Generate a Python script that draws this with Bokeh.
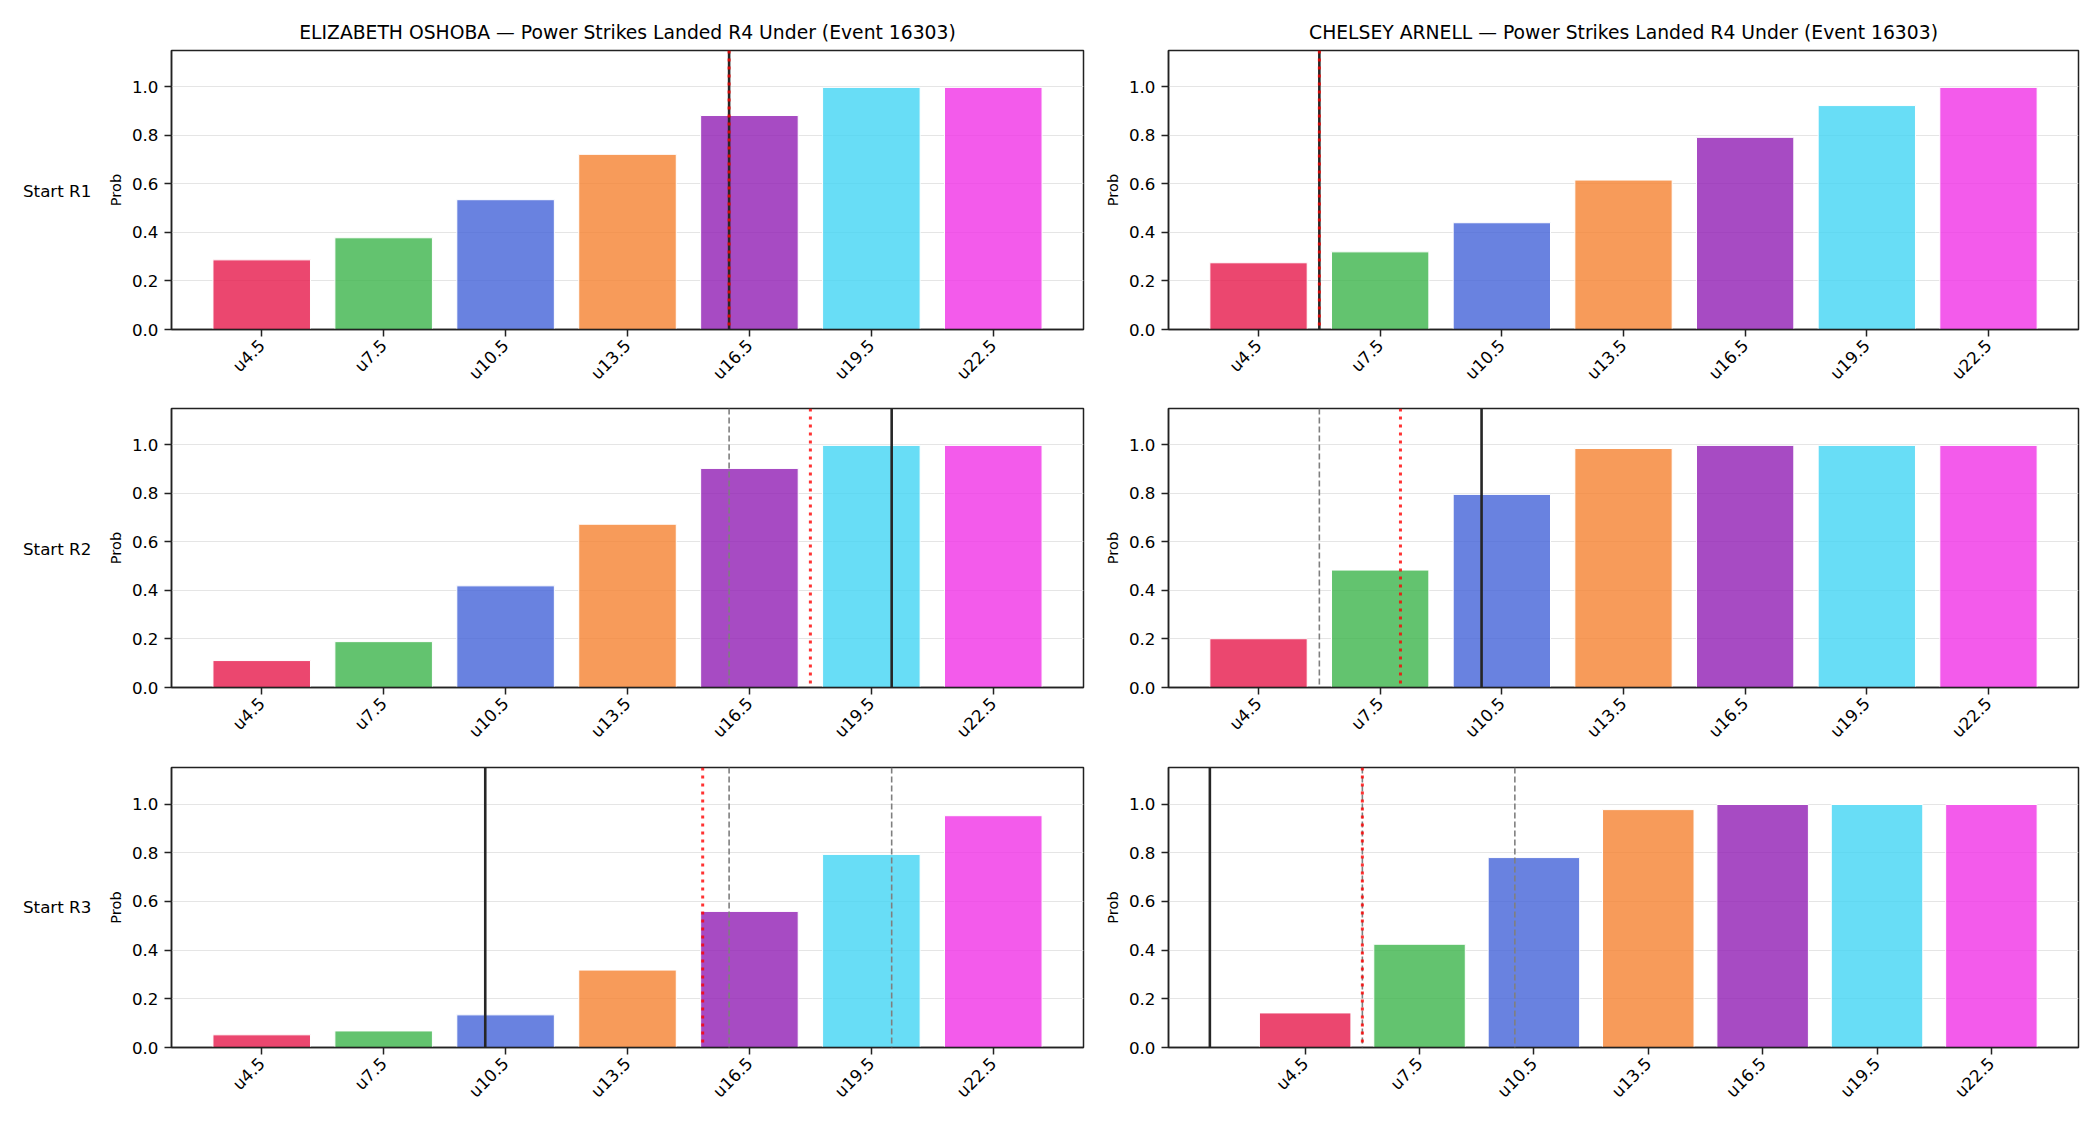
import math
from bokeh.plotting import figure
from bokeh.layouts import column, row
from bokeh.models import Span, Div, FixedTicker, PrintfTickFormatter, Range1d, ColumnDataSource
from bokeh.embed import file_html
from bokeh.resources import INLINE

# ---------------- data ----------------
fighters = ["ELIZABETH OSHOBA", "CHELSEY ARNELL"]
title_suffix = " — Power Strikes Landed R4 Under (Event 16303)"
round_labels = ["Start R1", "Start R2", "Start R3"]
line_labels = ["u4.5", "u7.5", "u10.5", "u13.5", "u16.5", "u19.5", "u22.5"]
line_values = [4.5, 7.5, 10.5, 13.5, 16.5, 19.5, 22.5]
bar_colors = ["#e6194b", "#3cb44b", "#4363d8", "#f58231", "#911eb4", "#42d4f4", "#f032e6"]

oshoba_r1 = [0.287, 0.378, 0.535, 0.722, 0.882, 0.998, 0.998]
oshoba_r2 = [0.111, 0.189, 0.419, 0.673, 0.903, 0.998, 0.998]
oshoba_r3 = [0.052, 0.068, 0.134, 0.318, 0.559, 0.793, 0.952]
arnell_r1 = [0.275, 0.320, 0.440, 0.616, 0.792, 0.923, 0.998]
arnell_r2 = [0.201, 0.484, 0.796, 0.985, 0.998, 0.998, 0.998]
arnell_r3 = [0.142, 0.424, 0.780, 0.977, 0.998, 0.998, 0.998]

# vertical markers (in strikes)
oshoba_solid = [16.0, 20.0, 10.0]
oshoba_dotted = [16.0, 18.0, 15.35]
oshoba_dashed = [[], [16.0], [16.0, 20.0]]
arnell_solid = [6.0, 10.0, 2.0]
arnell_dotted = [6.0, 8.0, 6.0]
arnell_dashed = [[], [6.0], [6.0, 10.0]]

y_max = 1.15
y_ticks = [0.0, 0.2, 0.4, 0.6, 0.8, 1.0]

probs = [[oshoba_r1, oshoba_r2, oshoba_r3], [arnell_r1, arnell_r2, arnell_r3]]
solids = [oshoba_solid, arnell_solid]
dotteds = [oshoba_dotted, arnell_dotted]
dasheds = [oshoba_dashed, arnell_dashed]

# ---------------- styling ----------------
FONT = "DejaVu Sans"
TICK_FS = "16.7px"
TITLE_FS = "18.75px"
ROW_FS = "16.7px"
AXLAB_FS = "14.6px"
SPINE = "#222222"

label_col_w = 100
col_borders = [(71, 17), (66, 22)]
row_borders = [(50, 62), (15, 62), (16, 78)]
frame_w = 912
frame_hs = [281, 281, 280]


def to_pos(v):
    step = line_values[1] - line_values[0]
    return (v - line_values[0]) / step


def make(fi, ri):
    bl, br = col_borders[fi]
    bt, bb = row_borders[ri]
    fh = frame_hs[ri]
    idx = list(range(len(line_labels)))
    marks = [solids[fi][ri], dotteds[fi][ri]] + list(dasheds[fi][ri])
    mpos = [to_pos(v) for v in marks]
    lo = min(idx[0] - 0.4, min(mpos))
    hi = max(idx[-1] + 0.4, max(mpos))
    pad = 0.05 * (hi - lo)
    x0, x1 = lo - pad, hi + pad

    p = figure(width=bl + frame_w + br, height=bt + fh + bb,
               x_range=Range1d(x0, x1), y_range=Range1d(0, y_max),
               output_backend="svg", toolbar_location=None,
               title=(fighters[fi] + title_suffix) if ri == 0 else None,
               min_border_left=bl, min_border_right=br,
               min_border_top=bt, min_border_bottom=bb)
    p.background_fill_color = "white"
    p.border_fill_color = "white"
    p.outline_line_color = SPINE
    p.outline_line_width = 1.5
    p.outline_line_alpha = 1.0
    if ri == 0:
        p.title.align = "center"
        p.title.text_font = FONT
        p.title.text_font_size = TITLE_FS
        p.title.text_font_style = "normal"
        p.title.text_color = "black"
        p.title.standoff = 16

    src = ColumnDataSource(dict(x=idx, top=probs[fi][ri], color=bar_colors, label=line_labels))
    p.vbar(x="x", top="top", bottom=0, width=0.8, source=src,
           fill_color="color", fill_alpha=0.8, line_color="white", line_width=1)

    for v in dasheds[fi][ri]:
        p.add_layout(Span(location=to_pos(v), dimension="height", line_color="#7f7f7f",
                          line_width=1.6, line_dash="6 3"))
    p.add_layout(Span(location=to_pos(solids[fi][ri]), dimension="height",
                      line_color="#262626", line_width=2.6))
    p.add_layout(Span(location=to_pos(dotteds[fi][ri]), dimension="height",
                      line_color="red", line_alpha=0.8, line_width=3, line_dash="3 5"))

    p.xaxis.ticker = FixedTicker(ticks=idx)
    p.xaxis.major_label_overrides = {i: lab for i, lab in zip(idx, line_labels)}
    p.xaxis.major_label_orientation = math.pi / 4
    p.yaxis.ticker = FixedTicker(ticks=y_ticks)
    p.yaxis.formatter = PrintfTickFormatter(format="%.1f")
    for ax in (p.xaxis, p.yaxis):
        ax.major_label_text_font = FONT
        ax.major_label_text_font_size = TICK_FS
        ax.major_label_text_color = "black"
        ax.major_tick_line_color = SPINE
        ax.major_tick_line_width = 1.5
        ax.major_tick_out = 7
        ax.major_tick_in = 0
        ax.minor_tick_line_color = None
        ax.axis_line_color = SPINE
        ax.axis_line_width = 1.5
        ax.major_label_standoff = 6
    p.yaxis.axis_label = "Prob"
    p.yaxis.axis_label_text_font = FONT
    p.yaxis.axis_label_text_font_size = AXLAB_FS
    p.yaxis.axis_label_text_font_style = "normal"
    p.yaxis.axis_label_text_color = "black"
    p.yaxis.axis_label_standoff = 5

    p.xgrid.visible = False
    p.ygrid.ticker = FixedTicker(ticks=y_ticks)
    p.ygrid.grid_line_color = "#e5e5e5"
    p.ygrid.grid_line_width = 1
    return p


def row_label(ri):
    bt, bb = row_borders[ri]
    fh = frame_hs[ri]
    h = bt + fh + bb
    center = bt + fh / 2
    html = (f'<div style="position:relative;width:{label_col_w}px;height:{h}px;">'
            f'<div style="position:absolute;left:23px;top:{center}px;transform:translateY(-50%);'
            f"font-family:'{FONT}';font-size:{ROW_FS};color:black;white-space:nowrap;line-height:1;\">"
            f'{round_labels[ri]}</div></div>')
    return Div(text=html, width=label_col_w, height=h, margin=0)


rows = []
for ri in range(3):
    rows.append(row(row_label(ri), make(0, ri), make(1, ri), spacing=0))
layout = column(*rows, spacing=0)

open("out.html", "w").write(file_html(layout, INLINE))
